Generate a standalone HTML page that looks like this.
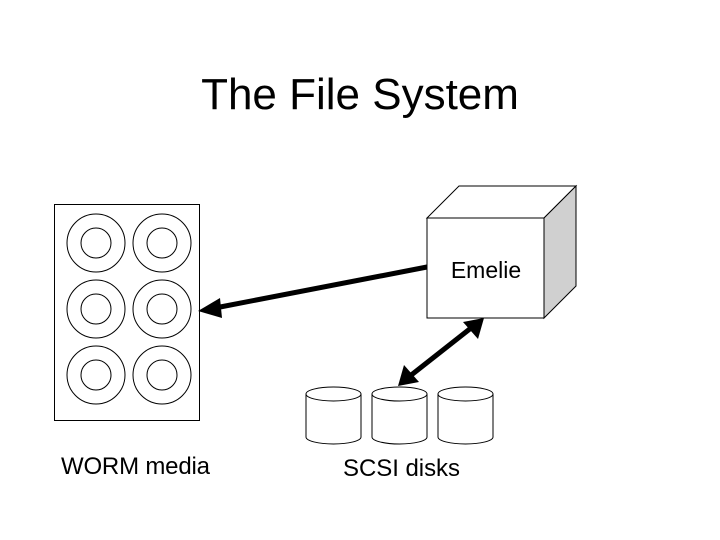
<!DOCTYPE html>
<html><head><style>body{margin:0;background:#fff}svg{display:block}</style></head><body>
<svg width="720" height="540" viewBox="0 0 720 540" xmlns="http://www.w3.org/2000/svg" font-family="Liberation Sans, sans-serif">
<rect width="720" height="540" fill="#fff"/>
<text x="360" y="109" font-size="44" text-anchor="middle">The File System</text>
<rect x="54.5" y="204.5" width="145" height="216" fill="#fff" stroke="#000"/>
<g fill="none" stroke="#000">
<circle cx="96" cy="243" r="29"/><circle cx="96" cy="243" r="15"/>
<circle cx="162" cy="243" r="29"/><circle cx="162" cy="243" r="15"/>
<circle cx="96" cy="309" r="29"/><circle cx="96" cy="309" r="15"/>
<circle cx="162" cy="309" r="29"/><circle cx="162" cy="309" r="15"/>
<circle cx="96" cy="375" r="29"/><circle cx="96" cy="375" r="15"/>
<circle cx="162" cy="375" r="29"/><circle cx="162" cy="375" r="15"/>
</g>
<polygon points="427,218 459,186 576,186 544,218" fill="#fff" stroke="#000"/>
<polygon points="544,218 576,186 576,286 544,318" fill="#d0d0d0" stroke="#000"/>
<rect x="427" y="218" width="117" height="100" fill="#fff" stroke="#000"/>
<text x="486" y="278" font-size="23" text-anchor="middle">Emelie</text>
<line x1="427" y1="267" x2="215" y2="308" stroke="#000" stroke-width="5"/>
<polygon points="198,311 220,298 222,318" fill="#000"/>
<line x1="471" y1="328" x2="410" y2="376" stroke="#000" stroke-width="5"/>
<polygon points="484,318 478,339 463,322" fill="#000"/>
<polygon points="398,386 404,365 419,382" fill="#000"/>
<g fill="#fff" stroke="#000">
<path d="M306,394 v43 a27.5,7 0 0 0 55,0 v-43"/><ellipse cx="333.5" cy="394" rx="27.5" ry="7"/>
<path d="M372,394 v43 a27.5,7 0 0 0 55,0 v-43"/><ellipse cx="399.5" cy="394" rx="27.5" ry="7"/>
<path d="M438,394 v43 a27.5,7 0 0 0 55,0 v-43"/><ellipse cx="465.5" cy="394" rx="27.5" ry="7"/>
</g>
<text x="61" y="474" font-size="24" textLength="149">WORM media</text>
<text x="343" y="476" font-size="24" textLength="117">SCSI disks</text>
</svg>
</body></html>
